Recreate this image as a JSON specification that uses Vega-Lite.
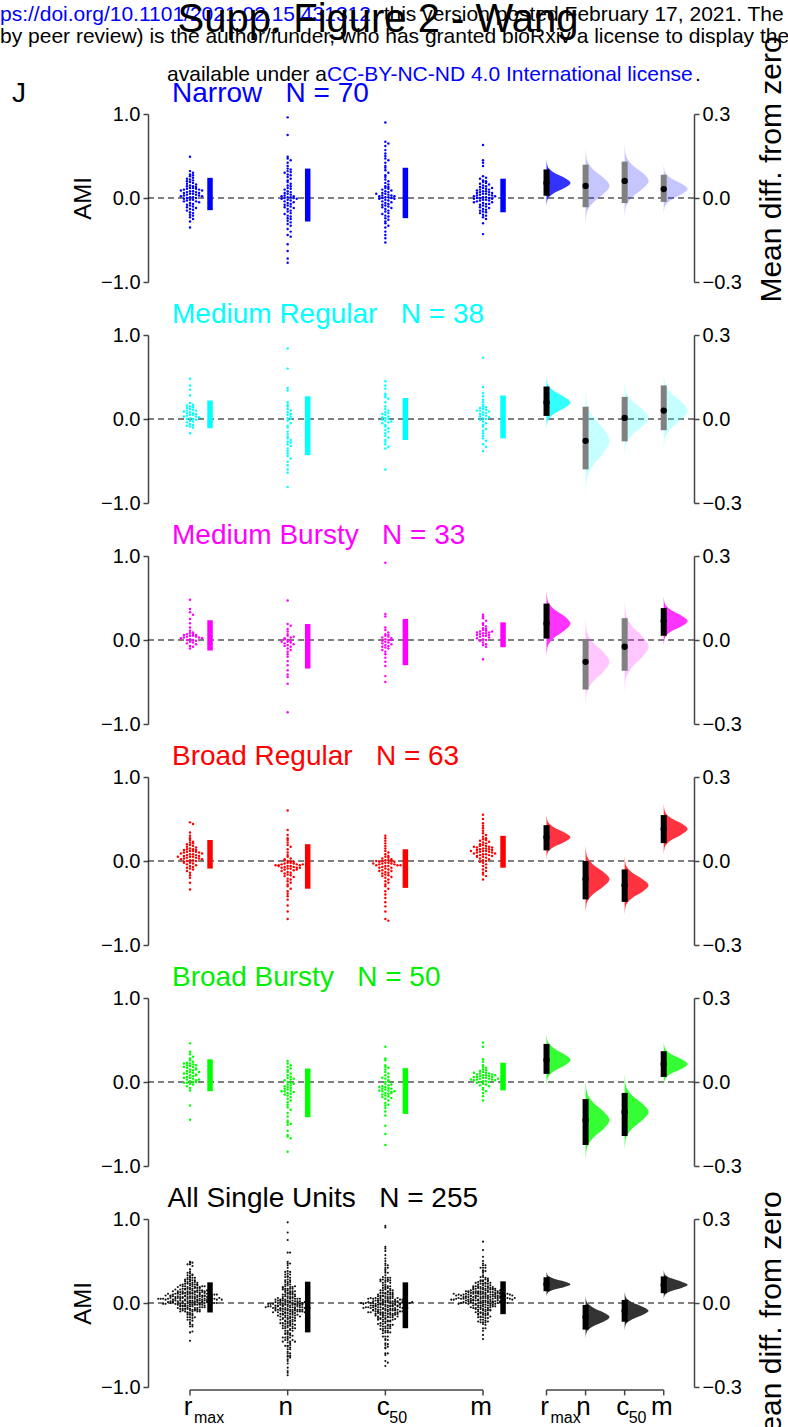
{
"$schema":"https://vega.github.io/schema/vega-lite/v6.json",
"padding":{"left":0,"top":0,"right":0,"bottom":0},
"background":"white",
"config":{"font":"Liberation Sans","view":{"stroke":null},"axis":{"labelFont":"Liberation Sans","titleFont":"Liberation Sans","labelColor":"#000","titleColor":"#000","titleFontWeight":"normal","domainColor":"#444","tickColor":"#444","domainWidth":1.5,"tickWidth":1.5,"grid":false},"text":{"font":"Liberation Sans"}},
"datasets":{
"dots":[
{"p":"Narrow","g":"rmax","v":[0.49,0.32,0.30,0.28,0.27,0.26,0.24,0.23,0.22,0.21,0.20,0.19,0.18,0.17,0.16,0.15,0.14,0.14,0.13,0.12,0.12,0.11,0.11,0.10,0.10,0.09,0.09,0.08,0.08,0.07,0.07,0.06,0.06,0.05,0.05,0.04,0.04,0.03,0.03,0.02,0.02,0.01,0.01,0.00,0.00,-0.01,-0.02,-0.02,-0.03,-0.04,-0.04,-0.05,-0.06,-0.07,-0.08,-0.09,-0.10,-0.11,-0.12,-0.13,-0.14,-0.15,-0.17,-0.18,-0.20,-0.21,-0.23,-0.25,-0.28,-0.35]},
{"p":"Narrow","g":"n","v":[0.96,0.75,0.49,0.47,0.45,0.42,0.35,0.34,0.32,0.31,0.30,0.28,0.27,0.25,0.23,0.21,0.19,0.17,0.15,0.14,0.12,0.11,0.10,0.08,0.07,0.06,0.05,0.04,0.03,0.02,0.02,0.01,0.01,0.00,0.00,-0.01,-0.01,-0.02,-0.03,-0.04,-0.05,-0.06,-0.07,-0.08,-0.09,-0.10,-0.11,-0.12,-0.13,-0.15,-0.16,-0.18,-0.19,-0.21,-0.22,-0.24,-0.25,-0.27,-0.29,-0.31,-0.33,-0.37,-0.40,-0.44,-0.46,-0.55,-0.63,-0.72,-0.77,0.38]},
{"p":"Narrow","g":"c50","v":[0.90,0.67,0.65,0.62,0.57,0.53,0.50,0.47,0.45,0.42,0.38,0.36,0.33,0.30,0.27,0.25,0.22,0.20,0.18,0.16,0.14,0.12,0.11,0.10,0.09,0.08,0.07,0.06,0.05,0.04,0.03,0.03,0.02,0.02,0.01,0.01,0.00,0.00,-0.01,-0.01,-0.02,-0.03,-0.04,-0.05,-0.06,-0.07,-0.08,-0.09,-0.10,-0.11,-0.12,-0.13,-0.15,-0.16,-0.18,-0.19,-0.21,-0.22,-0.24,-0.26,-0.28,-0.30,-0.33,-0.35,-0.40,-0.44,-0.48,-0.53,0.13,0.05]},
{"p":"Narrow","g":"m","v":[0.63,0.45,0.42,0.38,0.26,0.24,0.23,0.21,0.20,0.19,0.18,0.17,0.16,0.15,0.14,0.13,0.12,0.11,0.10,0.10,0.09,0.08,0.08,0.07,0.07,0.06,0.06,0.05,0.05,0.04,0.04,0.03,0.03,0.02,0.02,0.01,0.01,0.00,0.00,0.00,-0.01,-0.01,-0.02,-0.02,-0.03,-0.03,-0.04,-0.05,-0.05,-0.06,-0.07,-0.08,-0.09,-0.10,-0.11,-0.12,-0.13,-0.14,-0.15,-0.16,-0.17,-0.18,-0.20,-0.21,-0.23,-0.25,-0.30,-0.43,0.12,-0.07]},
{"p":"MedReg","g":"rmax","v":[0.48,0.40,0.35,0.28,0.19,0.17,0.16,0.15,0.14,0.13,0.12,0.11,0.10,0.10,0.09,0.08,0.07,0.07,0.06,0.05,0.05,0.04,0.03,0.03,0.02,0.01,0.00,0.00,-0.01,-0.02,-0.03,-0.04,-0.06,-0.07,-0.08,-0.09,-0.10,-0.17]},
{"p":"MedReg","g":"n","v":[0.84,0.60,0.37,0.34,0.20,0.17,0.15,0.12,0.10,0.08,0.06,0.05,0.03,0.01,0.00,-0.02,-0.05,-0.08,-0.10,-0.18,-0.21,-0.23,-0.25,-0.27,-0.30,-0.32,-0.35,-0.38,-0.41,-0.44,-0.47,-0.51,-0.55,-0.60,-0.64,-0.81,-0.15,-0.28]},
{"p":"MedReg","g":"c50","v":[0.45,0.40,0.36,0.30,0.28,0.26,0.24,0.20,0.15,0.12,0.10,0.08,0.07,0.05,0.03,0.02,0.01,0.00,-0.01,-0.02,-0.04,-0.05,-0.07,-0.09,-0.11,-0.13,-0.15,-0.17,-0.20,-0.22,-0.25,-0.27,-0.30,-0.33,-0.35,-0.60,0.06,-0.03]},
{"p":"MedReg","g":"m","v":[0.73,0.38,0.31,0.27,0.23,0.20,0.17,0.15,0.14,0.13,0.12,0.11,0.10,0.09,0.08,0.07,0.06,0.05,0.04,0.03,0.02,0.01,0.00,-0.01,-0.03,-0.05,-0.07,-0.09,-0.12,-0.14,-0.17,-0.20,-0.23,-0.26,-0.30,-0.33,-0.38,0.10]},
{"p":"MedBursty","g":"rmax","v":[0.48,0.37,0.33,0.30,0.25,0.20,0.15,0.11,0.09,0.08,0.07,0.07,0.06,0.05,0.05,0.04,0.04,0.03,0.03,0.02,0.02,0.01,0.00,0.00,-0.01,-0.02,-0.03,-0.04,-0.05,-0.07,-0.08,-0.10,0.06]},
{"p":"MedBursty","g":"n","v":[0.47,0.19,0.17,0.13,0.10,0.07,0.05,0.03,0.02,0.00,-0.01,-0.02,-0.03,-0.04,-0.05,-0.06,-0.08,-0.10,-0.12,-0.14,-0.17,-0.20,-0.25,-0.30,-0.36,-0.41,-0.44,-0.52,-0.86,0.01,-0.02,-0.07,0.04]},
{"p":"MedBursty","g":"c50","v":[0.92,0.31,0.28,0.15,0.12,0.09,0.07,0.05,0.04,0.03,0.02,0.01,0.00,-0.01,-0.02,-0.03,-0.04,-0.05,-0.06,-0.07,-0.09,-0.10,-0.12,-0.14,-0.17,-0.21,-0.26,-0.31,-0.43,-0.50,0.00,-0.08,0.06]},
{"p":"MedBursty","g":"m","v":[0.30,0.28,0.26,0.23,0.20,0.18,0.16,0.14,0.13,0.12,0.11,0.10,0.09,0.08,0.08,0.07,0.06,0.05,0.05,0.04,0.03,0.02,0.01,0.00,-0.01,-0.03,-0.05,-0.06,-0.08,-0.23,0.09,0.06,0.10]},
{"p":"BroadReg","g":"rmax","v":[0.46,0.44,0.34,0.30,0.27,0.25,0.23,0.22,0.21,0.20,0.19,0.18,0.17,0.16,0.15,0.14,0.14,0.13,0.12,0.12,0.11,0.11,0.10,0.10,0.09,0.09,0.08,0.08,0.07,0.07,0.06,0.06,0.05,0.05,0.04,0.04,0.03,0.03,0.02,0.02,0.01,0.01,0.00,0.00,-0.01,-0.02,-0.03,-0.04,-0.05,-0.06,-0.07,-0.08,-0.09,-0.10,-0.12,-0.14,-0.17,-0.20,-0.26,-0.34,0.13,0.05,-0.02]},
{"p":"BroadReg","g":"n","v":[0.60,0.37,0.31,0.27,0.25,0.22,0.19,0.17,0.14,0.10,0.07,0.05,0.03,0.02,0.00,-0.01,-0.02,-0.02,-0.03,-0.03,-0.04,-0.04,-0.05,-0.05,-0.05,-0.06,-0.06,-0.07,-0.07,-0.08,-0.08,-0.09,-0.09,-0.10,-0.11,-0.12,-0.13,-0.14,-0.15,-0.16,-0.17,-0.18,-0.19,-0.21,-0.22,-0.24,-0.26,-0.28,-0.30,-0.33,-0.36,-0.39,-0.42,-0.46,-0.53,-0.60,-0.69,-0.04,-0.06,0.01,-0.10,-0.01,-0.08]},
{"p":"BroadReg","g":"c50","v":[0.30,0.27,0.24,0.21,0.18,0.15,0.12,0.10,0.08,0.06,0.05,0.04,0.03,0.02,0.01,0.01,0.00,0.00,-0.01,-0.01,-0.02,-0.02,-0.03,-0.03,-0.04,-0.04,-0.05,-0.05,-0.06,-0.06,-0.07,-0.08,-0.09,-0.10,-0.11,-0.12,-0.13,-0.14,-0.15,-0.16,-0.17,-0.18,-0.19,-0.20,-0.22,-0.24,-0.26,-0.28,-0.30,-0.33,-0.36,-0.40,-0.44,-0.49,-0.54,-0.60,-0.69,-0.71,-0.03,-0.08,-0.12,0.00,-0.05]},
{"p":"BroadReg","g":"m","v":[0.55,0.50,0.45,0.42,0.39,0.36,0.33,0.31,0.29,0.27,0.26,0.25,0.24,0.23,0.22,0.21,0.20,0.19,0.18,0.18,0.17,0.16,0.16,0.15,0.15,0.14,0.14,0.13,0.13,0.12,0.12,0.11,0.11,0.10,0.10,0.09,0.09,0.08,0.08,0.07,0.07,0.06,0.06,0.05,0.04,0.03,0.02,0.01,0.00,-0.01,-0.02,-0.04,-0.06,-0.08,-0.10,-0.12,-0.14,-0.16,-0.18,-0.22,0.12,0.05,0.17]},
{"p":"BroadBursty","g":"rmax","v":[0.46,0.36,0.33,0.30,0.28,0.26,0.24,0.23,0.22,0.21,0.20,0.19,0.18,0.17,0.16,0.15,0.14,0.13,0.12,0.11,0.10,0.09,0.08,0.07,0.06,0.05,0.04,0.03,0.02,0.01,0.00,-0.01,-0.02,-0.03,-0.05,-0.07,-0.10,-0.28,-0.45,0.20,0.15,0.10,0.05,0.00,0.18,0.12,0.08,0.03,0.22,-0.01]},
{"p":"BroadBursty","g":"n","v":[0.25,0.22,0.20,0.18,0.16,0.14,0.12,0.10,0.08,0.06,0.05,0.03,0.02,0.00,-0.01,-0.03,-0.04,-0.06,-0.07,-0.08,-0.09,-0.10,-0.11,-0.12,-0.13,-0.14,-0.15,-0.16,-0.18,-0.20,-0.22,-0.24,-0.27,-0.30,-0.33,-0.37,-0.41,-0.46,-0.48,-0.50,-0.51,-0.58,-0.63,-0.65,-0.67,-0.83,-0.05,-0.11,0.04,-0.02]},
{"p":"BroadBursty","g":"c50","v":[0.42,0.28,0.26,0.20,0.18,0.17,0.15,0.12,0.10,0.08,0.06,0.04,0.02,0.00,-0.02,-0.04,-0.05,-0.06,-0.07,-0.08,-0.09,-0.10,-0.11,-0.12,-0.13,-0.14,-0.15,-0.16,-0.17,-0.18,-0.20,-0.22,-0.25,-0.28,-0.31,-0.35,-0.40,-0.52,-0.62,-0.75,-0.10,-0.08,-0.13,-0.06,0.01,-0.03,-0.11,-0.19,-0.27,0.05]},
{"p":"BroadBursty","g":"m","v":[0.47,0.42,0.27,0.24,0.20,0.18,0.17,0.15,0.14,0.13,0.12,0.11,0.10,0.10,0.09,0.09,0.08,0.08,0.07,0.07,0.06,0.06,0.05,0.05,0.04,0.04,0.03,0.03,0.02,0.02,0.01,0.01,0.00,0.00,-0.01,-0.02,-0.03,-0.04,-0.05,-0.07,-0.09,-0.11,-0.13,-0.17,-0.22,0.06,0.03,0.08,0.11,0.04]}
],
"stats":[
{"p":"Narrow","g":"rmax","mean":0.054,"lo":0.008,"hi":0.102,"sdlo":-0.145,"sdhi":0.24,"sig":true,"vy":[-0.030,-0.006,0.018,0.036,0.054,0.072,0.090,0.114,0.138],"vw":[0,0.04,0.32,0.75,1,0.75,0.32,0.04,0]},
{"p":"Narrow","g":"n","mean":0.043,"lo":-0.033,"hi":0.119,"sdlo":-0.28,"sdhi":0.35,"sig":false,"vy":[-0.094,-0.055,-0.016,0.014,0.043,0.072,0.102,0.141,0.180],"vw":[0,0.04,0.32,0.75,1,0.75,0.32,0.04,0]},
{"p":"Narrow","g":"c50","mean":0.061,"lo":-0.018,"hi":0.13,"sdlo":-0.24,"sdhi":0.36,"sig":false,"vy":[-0.072,-0.034,0.004,0.033,0.061,0.090,0.118,0.156,0.194],"vw":[0,0.04,0.32,0.75,1,0.75,0.32,0.04,0]},
{"p":"Narrow","g":"m","mean":0.032,"lo":-0.014,"hi":0.083,"sdlo":-0.17,"sdhi":0.23,"sig":false,"vy":[-0.056,-0.031,-0.006,0.013,0.032,0.051,0.070,0.095,0.120],"vw":[0,0.04,0.32,0.75,1,0.75,0.32,0.04,0]},
{"p":"MedReg","g":"rmax","mean":0.059,"lo":0.011,"hi":0.116,"sdlo":-0.11,"sdhi":0.22,"sig":true,"vy":[-0.036,-0.009,0.019,0.039,0.059,0.079,0.100,0.127,0.154],"vw":[0,0.04,0.32,0.75,1,0.75,0.32,0.04,0]},
{"p":"MedReg","g":"n","mean":-0.078,"lo":-0.18,"hi":0.044,"sdlo":-0.43,"sdhi":0.27,"sig":false,"vy":[-0.278,-0.221,-0.164,-0.121,-0.078,-0.035,0.008,0.065,0.122],"vw":[0,0.04,0.32,0.75,1,0.75,0.32,0.04,0]},
{"p":"MedReg","g":"c50","mean":0.004,"lo":-0.08,"hi":0.079,"sdlo":-0.25,"sdhi":0.25,"sig":false,"vy":[-0.136,-0.096,-0.056,-0.026,0.004,0.034,0.064,0.104,0.144],"vw":[0,0.04,0.32,0.75,1,0.75,0.32,0.04,0]},
{"p":"MedReg","g":"m","mean":0.03,"lo":-0.04,"hi":0.12,"sdlo":-0.23,"sdhi":0.28,"sig":false,"vy":[-0.114,-0.073,-0.032,-0.001,0.030,0.061,0.092,0.133,0.174],"vw":[0,0.04,0.32,0.75,1,0.75,0.32,0.04,0]},
{"p":"MedBursty","g":"rmax","mean":0.059,"lo":0.005,"hi":0.13,"sdlo":-0.125,"sdhi":0.235,"sig":true,"vy":[-0.060,-0.026,0.008,0.034,0.059,0.085,0.110,0.144,0.178],"vw":[0,0.04,0.32,0.75,1,0.75,0.32,0.04,0]},
{"p":"MedBursty","g":"n","mean":-0.078,"lo":-0.177,"hi":0.004,"sdlo":-0.34,"sdhi":0.19,"sig":false,"vy":[-0.239,-0.193,-0.147,-0.113,-0.078,-0.044,-0.009,0.037,0.083],"vw":[0,0.04,0.32,0.75,1,0.75,0.32,0.04,0]},
{"p":"MedBursty","g":"c50","mean":-0.024,"lo":-0.11,"hi":0.078,"sdlo":-0.30,"sdhi":0.25,"sig":false,"vy":[-0.192,-0.144,-0.096,-0.060,-0.024,0.012,0.048,0.096,0.144],"vw":[0,0.04,0.32,0.75,1,0.75,0.32,0.04,0]},
{"p":"MedBursty","g":"m","mean":0.068,"lo":0.015,"hi":0.114,"sdlo":-0.086,"sdhi":0.21,"sig":true,"vy":[-0.020,0.006,0.031,0.049,0.068,0.087,0.106,0.131,0.156],"vw":[0,0.04,0.32,0.75,1,0.75,0.32,0.04,0]},
{"p":"BroadReg","g":"rmax","mean":0.085,"lo":0.038,"hi":0.128,"sdlo":-0.09,"sdhi":0.25,"sig":true,"vy":[0.005,0.028,0.051,0.068,0.085,0.102,0.120,0.143,0.166],"vw":[0,0.04,0.32,0.75,1,0.75,0.32,0.04,0]},
{"p":"BroadReg","g":"n","mean":-0.065,"lo":-0.137,"hi":0.0,"sdlo":-0.33,"sdhi":0.2,"sig":true,"vy":[-0.188,-0.153,-0.118,-0.091,-0.065,-0.039,-0.013,0.023,0.058],"vw":[0,0.04,0.32,0.75,1,0.75,0.32,0.04,0]},
{"p":"BroadReg","g":"c50","mean":-0.087,"lo":-0.146,"hi":-0.03,"sdlo":-0.32,"sdhi":0.14,"sig":true,"vy":[-0.192,-0.162,-0.132,-0.110,-0.087,-0.065,-0.042,-0.012,0.018],"vw":[0,0.04,0.32,0.75,1,0.75,0.32,0.04,0]},
{"p":"BroadReg","g":"m","mean":0.114,"lo":0.064,"hi":0.164,"sdlo":-0.08,"sdhi":0.30,"sig":true,"vy":[0.023,0.049,0.075,0.095,0.114,0.134,0.153,0.179,0.205],"vw":[0,0.04,0.32,0.75,1,0.75,0.32,0.04,0]},
{"p":"BroadBursty","g":"rmax","mean":0.079,"lo":0.029,"hi":0.136,"sdlo":-0.11,"sdhi":0.27,"sig":true,"vy":[-0.016,0.012,0.039,0.059,0.079,0.099,0.120,0.147,0.174],"vw":[0,0.04,0.32,0.75,1,0.75,0.32,0.04,0]},
{"p":"BroadBursty","g":"n","mean":-0.136,"lo":-0.225,"hi":-0.061,"sdlo":-0.42,"sdhi":0.16,"sig":true,"vy":[-0.283,-0.241,-0.199,-0.168,-0.136,-0.105,-0.073,-0.031,0.011],"vw":[0,0.04,0.32,0.75,1,0.75,0.32,0.04,0]},
{"p":"BroadBursty","g":"c50","mean":-0.107,"lo":-0.193,"hi":-0.039,"sdlo":-0.38,"sdhi":0.165,"sig":true,"vy":[-0.244,-0.205,-0.166,-0.136,-0.107,-0.078,-0.049,-0.010,0.030],"vw":[0,0.04,0.32,0.75,1,0.75,0.32,0.04,0]},
{"p":"BroadBursty","g":"m","mean":0.064,"lo":0.018,"hi":0.11,"sdlo":-0.10,"sdhi":0.23,"sig":true,"vy":[-0.017,0.007,0.030,0.047,0.064,0.081,0.099,0.122,0.145],"vw":[0,0.04,0.32,0.75,1,0.75,0.32,0.04,0]},
{"p":"All","g":"rmax","mean":0.067,"lo":0.042,"hi":0.092,"sdlo":-0.113,"sdhi":0.246,"sig":true,"vy":[0.022,0.035,0.048,0.057,0.067,0.077,0.087,0.100,0.113],"vw":[0,0.04,0.32,0.75,1,0.75,0.32,0.04,0]},
{"p":"All","g":"n","mean":-0.05,"lo":-0.095,"hi":-0.007,"sdlo":-0.35,"sdhi":0.254,"sig":true,"vy":[-0.127,-0.105,-0.083,-0.067,-0.050,-0.034,-0.017,0.005,0.027],"vw":[0,0.04,0.32,0.75,1,0.75,0.32,0.04,0]},
{"p":"All","g":"c50","mean":-0.028,"lo":-0.067,"hi":0.011,"sdlo":-0.30,"sdhi":0.246,"sig":true,"vy":[-0.098,-0.078,-0.058,-0.043,-0.028,-0.013,0.002,0.022,0.042],"vw":[0,0.04,0.32,0.75,1,0.75,0.32,0.04,0]},
{"p":"All","g":"m","mean":0.065,"lo":0.035,"hi":0.095,"sdlo":-0.133,"sdhi":0.258,"sig":true,"vy":[0.013,0.028,0.043,0.054,0.065,0.076,0.088,0.103,0.118],"vw":[0,0.04,0.32,0.75,1,0.75,0.32,0.04,0]}
],
"labs":[{"g":"rmax","t":"r","s":"max"},{"g":"n","t":"n","s":""},{"g":"c50","t":"c","s":"50"},{"g":"m","t":"m","s":""}]
},
"spacing":53,
"bounds":"flush",
"vconcat":[
{"width":546,"height":168,"resolve":{"scale":{"y":"independent"}},"layer":[
 {"layer":[
  {"data":{"values":[{}]},"mark":{"type":"rule","strokeDash":[6,4],"strokeWidth":1.2,"color":"#000"},"encoding":{"y":{"datum":0,"type":"quantitative","scale":{"domain":[-1,1],"nice":false},"axis":{"values":[-1,0,1],"format":".1f","labelFontSize":20,"tickSize":5,"labelPadding":3,"labelFlush":false,"labelOverlap":false,"title":"AMI","titleFontSize":24,"titlePadding":5}}}},
  {"data":{"name":"dots"},"transform":[{"filter":"datum.p=='Narrow'"},{"flatten":["v"]},{"calculate":"indexof(['rmax','n','c50','m'],datum.g)+1","as":"gi"},{"calculate":"round(datum.v/0.035)","as":"bin"},{"window":[{"op":"row_number","as":"rn"}],"groupby":["g","bin"]},{"calculate":"datum.gi+(datum.rn%2==0?1:-1)*floor(datum.rn/2)*0.031","as":"xs"}],"mark":{"type":"circle","size":6,"opacity":1,"color":"#0000ff"},"encoding":{"x":{"field":"xs","type":"quantitative","scale":{"domain":[0.57,6.16],"nice":false},"axis":null},"y":{"field":"v","type":"quantitative","scale":{"domain":[-1,1],"nice":false}}}},
  {"data":{"name":"stats"},"transform":[{"filter":"datum.p=='Narrow'"},{"calculate":"indexof(['rmax','n','c50','m'],datum.g)+1.205","as":"bx"}],"mark":{"type":"rule","strokeWidth":5.5,"color":"#0000ff"},"encoding":{"x":{"field":"bx","type":"quantitative","scale":{"domain":[0.57,6.16],"nice":false},"axis":null},"y":{"field":"sdlo","type":"quantitative","scale":{"domain":[-1,1],"nice":false}},"y2":{"field":"sdhi"}}},
  {"data":{"values":[{}]},"mark":{"type":"text","align":"left","baseline":"alphabetic","fontSize":28,"color":"#0000ff"},"encoding":{"x":{"datum":0.816,"type":"quantitative","scale":{"domain":[0.57,6.16],"nice":false},"axis":null},"y":{"datum":1.143,"type":"quantitative","scale":{"domain":[-1,1],"nice":false}},"text":{"value":"Narrow\u00a0\u00a0\u00a0N = 70"}}},
  {"data":{"values":[{}]},"mark":{"type":"text","align":"left","baseline":"alphabetic","fontSize":28,"color":"#000"},"encoding":{"x":{"datum":-0.822,"type":"quantitative","scale":{"domain":[0.57,6.16],"nice":false},"axis":null},"y":{"datum":1.143,"type":"quantitative","scale":{"domain":[-1,1],"nice":false}},"text":{"value":"J"}}},
  {"data":{"values":[{}]},"mark":{"type":"text","align":"left","baseline":"alphabetic","fontSize":21,"color":"#0000ff"},"encoding":{"x":{"datum":-0.945,"type":"quantitative","scale":{"domain":[0.57,6.16],"nice":false},"axis":null},"y":{"datum":2.107,"type":"quantitative","scale":{"domain":[-1,1],"nice":false}},"text":{"value":"ps://doi.org/10.1101/2021.02.15.431312"}}},
  {"data":{"values":[{}]},"mark":{"type":"text","align":"left","baseline":"alphabetic","fontSize":21,"color":"#000"},"encoding":{"x":{"datum":2.863,"type":"quantitative","scale":{"domain":[0.57,6.16],"nice":false},"axis":null},"y":{"datum":2.107,"type":"quantitative","scale":{"domain":[-1,1],"nice":false}},"text":{"value":"; this version posted February 17, 2021. The"}}},
  {"data":{"values":[{}]},"mark":{"type":"text","align":"left","baseline":"alphabetic","fontSize":21,"color":"#000"},"encoding":{"x":{"datum":-0.945,"type":"quantitative","scale":{"domain":[0.57,6.16],"nice":false},"axis":null},"y":{"datum":1.845,"type":"quantitative","scale":{"domain":[-1,1],"nice":false}},"text":{"value":"by peer review) is the author/funder, who has granted bioRxiv a license to display the"}}},
  {"data":{"values":[{}]},"mark":{"type":"text","align":"right","baseline":"alphabetic","fontSize":21,"color":"#000"},"encoding":{"x":{"datum":2.403,"type":"quantitative","scale":{"domain":[0.57,6.16],"nice":false},"axis":null},"y":{"datum":1.393,"type":"quantitative","scale":{"domain":[-1,1],"nice":false}},"text":{"value":"available under a"}}},
  {"data":{"values":[{}]},"mark":{"type":"text","align":"left","baseline":"alphabetic","fontSize":21,"color":"#0000ff"},"encoding":{"x":{"datum":2.403,"type":"quantitative","scale":{"domain":[0.57,6.16],"nice":false},"axis":null},"y":{"datum":1.393,"type":"quantitative","scale":{"domain":[-1,1],"nice":false}},"text":{"value":"CC-BY-NC-ND 4.0 International license"}}},
  {"data":{"values":[{}]},"mark":{"type":"text","align":"left","baseline":"alphabetic","fontSize":21,"color":"#000"},"encoding":{"x":{"datum":6.17,"type":"quantitative","scale":{"domain":[0.57,6.16],"nice":false},"axis":null},"y":{"datum":1.393,"type":"quantitative","scale":{"domain":[-1,1],"nice":false}},"text":{"value":"."}}},
  {"data":{"values":[{}]},"mark":{"type":"text","align":"center","baseline":"alphabetic","fontSize":40,"color":"#000"},"encoding":{"x":{"datum":2.925,"type":"quantitative","scale":{"domain":[0.57,6.16],"nice":false},"axis":null},"y":{"datum":1.976,"type":"quantitative","scale":{"domain":[-1,1],"nice":false}},"text":{"value":"Supp. Figure 2 - Wang"}}}
 ]},
 {"layer":[
  {"data":{"name":"stats"},"transform":[{"filter":"datum.p=='Narrow'"},{"calculate":"4.65+0.4*indexof(['rmax','n','c50','m'],datum.g)","as":"rx"},{"flatten":["vy","vw"]},{"calculate":"datum.rx+datum.vw*0.245","as":"vx"}],"mark":{"type":"area","orient":"horizontal","interpolate":"monotone","color":"#3333ff"},"encoding":{"y":{"field":"vy","type":"quantitative","scale":{"domain":[-0.3,0.3],"nice":false},"axis":{"orient":"right","values":[-0.3,0,0.3],"format":".1f","labelFontSize":20,"tickSize":5,"labelPadding":3,"labelFlush":false,"labelOverlap":false,"title":"Mean diff. from zero","titleFontSize":30,"titleAngle":270,"titleBaseline":"top","titlePadding":15,"titleY":55}},"x":{"field":"vx","type":"quantitative","scale":{"domain":[0.57,6.16],"nice":false},"axis":null},"x2":{"field":"rx"},"detail":{"field":"g"},"opacity":{"condition":{"test":"datum.sig","value":1},"value":0.28}}},
  {"data":{"name":"stats"},"transform":[{"filter":"datum.p=='Narrow'"},{"calculate":"4.65+0.4*indexof(['rmax','n','c50','m'],datum.g)","as":"rx"}],"mark":{"type":"rule","strokeWidth":6},"encoding":{"x":{"field":"rx","type":"quantitative","scale":{"domain":[0.57,6.16],"nice":false},"axis":null},"y":{"field":"lo","type":"quantitative","scale":{"domain":[-0.3,0.3],"nice":false}},"y2":{"field":"hi"},"color":{"condition":{"test":"datum.sig","value":"#000000"},"value":"#808080"}}},
  {"data":{"name":"stats"},"transform":[{"filter":"datum.p=='Narrow'"},{"calculate":"4.65+0.4*indexof(['rmax','n','c50','m'],datum.g)","as":"rx"}],"mark":{"type":"circle","size":40,"opacity":1,"color":"#000"},"encoding":{"x":{"field":"rx","type":"quantitative","scale":{"domain":[0.57,6.16],"nice":false},"axis":null},"y":{"field":"mean","type":"quantitative","scale":{"domain":[-0.3,0.3],"nice":false}}}}
 ]}
]},
{"width":546,"height":168,"resolve":{"scale":{"y":"independent"}},"layer":[
 {"layer":[
  {"data":{"values":[{}]},"mark":{"type":"rule","strokeDash":[6,4],"strokeWidth":1.2,"color":"#000"},"encoding":{"y":{"datum":0,"type":"quantitative","scale":{"domain":[-1,1],"nice":false},"axis":{"values":[-1,0,1],"format":".1f","labelFontSize":20,"tickSize":5,"labelPadding":3,"labelFlush":false,"labelOverlap":false,"title":null}}}},
  {"data":{"name":"dots"},"transform":[{"filter":"datum.p=='MedReg'"},{"flatten":["v"]},{"calculate":"indexof(['rmax','n','c50','m'],datum.g)+1","as":"gi"},{"calculate":"round(datum.v/0.035)","as":"bin"},{"window":[{"op":"row_number","as":"rn"}],"groupby":["g","bin"]},{"calculate":"datum.gi+(datum.rn%2==0?1:-1)*floor(datum.rn/2)*0.031","as":"xs"}],"mark":{"type":"circle","size":6,"opacity":1,"color":"#00ffff"},"encoding":{"x":{"field":"xs","type":"quantitative","scale":{"domain":[0.57,6.16],"nice":false},"axis":null},"y":{"field":"v","type":"quantitative","scale":{"domain":[-1,1],"nice":false}}}},
  {"data":{"name":"stats"},"transform":[{"filter":"datum.p=='MedReg'"},{"calculate":"indexof(['rmax','n','c50','m'],datum.g)+1.205","as":"bx"}],"mark":{"type":"rule","strokeWidth":5.5,"color":"#00ffff"},"encoding":{"x":{"field":"bx","type":"quantitative","scale":{"domain":[0.57,6.16],"nice":false},"axis":null},"y":{"field":"sdlo","type":"quantitative","scale":{"domain":[-1,1],"nice":false}},"y2":{"field":"sdhi"}}},
  {"data":{"values":[{}]},"mark":{"type":"text","align":"left","baseline":"alphabetic","fontSize":28,"color":"#00ffff"},"encoding":{"x":{"datum":0.816,"type":"quantitative","scale":{"domain":[0.57,6.16],"nice":false},"axis":null},"y":{"datum":1.143,"type":"quantitative","scale":{"domain":[-1,1],"nice":false}},"text":{"value":"Medium Regular\u00a0\u00a0\u00a0N = 38"}}}
 ]},
 {"layer":[
  {"data":{"name":"stats"},"transform":[{"filter":"datum.p=='MedReg'"},{"calculate":"4.65+0.4*indexof(['rmax','n','c50','m'],datum.g)","as":"rx"},{"flatten":["vy","vw"]},{"calculate":"datum.rx+datum.vw*0.245","as":"vx"}],"mark":{"type":"area","orient":"horizontal","interpolate":"monotone","color":"#33ffff"},"encoding":{"y":{"field":"vy","type":"quantitative","scale":{"domain":[-0.3,0.3],"nice":false},"axis":{"orient":"right","values":[-0.3,0,0.3],"format":".1f","labelFontSize":20,"tickSize":5,"labelPadding":3,"labelFlush":false,"labelOverlap":false,"title":null}},"x":{"field":"vx","type":"quantitative","scale":{"domain":[0.57,6.16],"nice":false},"axis":null},"x2":{"field":"rx"},"detail":{"field":"g"},"opacity":{"condition":{"test":"datum.sig","value":1},"value":0.28}}},
  {"data":{"name":"stats"},"transform":[{"filter":"datum.p=='MedReg'"},{"calculate":"4.65+0.4*indexof(['rmax','n','c50','m'],datum.g)","as":"rx"}],"mark":{"type":"rule","strokeWidth":6},"encoding":{"x":{"field":"rx","type":"quantitative","scale":{"domain":[0.57,6.16],"nice":false},"axis":null},"y":{"field":"lo","type":"quantitative","scale":{"domain":[-0.3,0.3],"nice":false}},"y2":{"field":"hi"},"color":{"condition":{"test":"datum.sig","value":"#000000"},"value":"#808080"}}},
  {"data":{"name":"stats"},"transform":[{"filter":"datum.p=='MedReg'"},{"calculate":"4.65+0.4*indexof(['rmax','n','c50','m'],datum.g)","as":"rx"}],"mark":{"type":"circle","size":40,"opacity":1,"color":"#000"},"encoding":{"x":{"field":"rx","type":"quantitative","scale":{"domain":[0.57,6.16],"nice":false},"axis":null},"y":{"field":"mean","type":"quantitative","scale":{"domain":[-0.3,0.3],"nice":false}}}}
 ]}
]},
{"width":546,"height":168,"resolve":{"scale":{"y":"independent"}},"layer":[
 {"layer":[
  {"data":{"values":[{}]},"mark":{"type":"rule","strokeDash":[6,4],"strokeWidth":1.2,"color":"#000"},"encoding":{"y":{"datum":0,"type":"quantitative","scale":{"domain":[-1,1],"nice":false},"axis":{"values":[-1,0,1],"format":".1f","labelFontSize":20,"tickSize":5,"labelPadding":3,"labelFlush":false,"labelOverlap":false,"title":null}}}},
  {"data":{"name":"dots"},"transform":[{"filter":"datum.p=='MedBursty'"},{"flatten":["v"]},{"calculate":"indexof(['rmax','n','c50','m'],datum.g)+1","as":"gi"},{"calculate":"round(datum.v/0.035)","as":"bin"},{"window":[{"op":"row_number","as":"rn"}],"groupby":["g","bin"]},{"calculate":"datum.gi+(datum.rn%2==0?1:-1)*floor(datum.rn/2)*0.031","as":"xs"}],"mark":{"type":"circle","size":6,"opacity":1,"color":"#ff00ff"},"encoding":{"x":{"field":"xs","type":"quantitative","scale":{"domain":[0.57,6.16],"nice":false},"axis":null},"y":{"field":"v","type":"quantitative","scale":{"domain":[-1,1],"nice":false}}}},
  {"data":{"name":"stats"},"transform":[{"filter":"datum.p=='MedBursty'"},{"calculate":"indexof(['rmax','n','c50','m'],datum.g)+1.205","as":"bx"}],"mark":{"type":"rule","strokeWidth":5.5,"color":"#ff00ff"},"encoding":{"x":{"field":"bx","type":"quantitative","scale":{"domain":[0.57,6.16],"nice":false},"axis":null},"y":{"field":"sdlo","type":"quantitative","scale":{"domain":[-1,1],"nice":false}},"y2":{"field":"sdhi"}}},
  {"data":{"values":[{}]},"mark":{"type":"text","align":"left","baseline":"alphabetic","fontSize":28,"color":"#ff00ff"},"encoding":{"x":{"datum":0.816,"type":"quantitative","scale":{"domain":[0.57,6.16],"nice":false},"axis":null},"y":{"datum":1.143,"type":"quantitative","scale":{"domain":[-1,1],"nice":false}},"text":{"value":"Medium Bursty\u00a0\u00a0\u00a0N = 33"}}}
 ]},
 {"layer":[
  {"data":{"name":"stats"},"transform":[{"filter":"datum.p=='MedBursty'"},{"calculate":"4.65+0.4*indexof(['rmax','n','c50','m'],datum.g)","as":"rx"},{"flatten":["vy","vw"]},{"calculate":"datum.rx+datum.vw*0.245","as":"vx"}],"mark":{"type":"area","orient":"horizontal","interpolate":"monotone","color":"#ff33ff"},"encoding":{"y":{"field":"vy","type":"quantitative","scale":{"domain":[-0.3,0.3],"nice":false},"axis":{"orient":"right","values":[-0.3,0,0.3],"format":".1f","labelFontSize":20,"tickSize":5,"labelPadding":3,"labelFlush":false,"labelOverlap":false,"title":null}},"x":{"field":"vx","type":"quantitative","scale":{"domain":[0.57,6.16],"nice":false},"axis":null},"x2":{"field":"rx"},"detail":{"field":"g"},"opacity":{"condition":{"test":"datum.sig","value":1},"value":0.28}}},
  {"data":{"name":"stats"},"transform":[{"filter":"datum.p=='MedBursty'"},{"calculate":"4.65+0.4*indexof(['rmax','n','c50','m'],datum.g)","as":"rx"}],"mark":{"type":"rule","strokeWidth":6},"encoding":{"x":{"field":"rx","type":"quantitative","scale":{"domain":[0.57,6.16],"nice":false},"axis":null},"y":{"field":"lo","type":"quantitative","scale":{"domain":[-0.3,0.3],"nice":false}},"y2":{"field":"hi"},"color":{"condition":{"test":"datum.sig","value":"#000000"},"value":"#808080"}}},
  {"data":{"name":"stats"},"transform":[{"filter":"datum.p=='MedBursty'"},{"calculate":"4.65+0.4*indexof(['rmax','n','c50','m'],datum.g)","as":"rx"}],"mark":{"type":"circle","size":40,"opacity":1,"color":"#000"},"encoding":{"x":{"field":"rx","type":"quantitative","scale":{"domain":[0.57,6.16],"nice":false},"axis":null},"y":{"field":"mean","type":"quantitative","scale":{"domain":[-0.3,0.3],"nice":false}}}}
 ]}
]},
{"width":546,"height":168,"resolve":{"scale":{"y":"independent"}},"layer":[
 {"layer":[
  {"data":{"values":[{}]},"mark":{"type":"rule","strokeDash":[6,4],"strokeWidth":1.2,"color":"#000"},"encoding":{"y":{"datum":0,"type":"quantitative","scale":{"domain":[-1,1],"nice":false},"axis":{"values":[-1,0,1],"format":".1f","labelFontSize":20,"tickSize":5,"labelPadding":3,"labelFlush":false,"labelOverlap":false,"title":null}}}},
  {"data":{"name":"dots"},"transform":[{"filter":"datum.p=='BroadReg'"},{"flatten":["v"]},{"calculate":"indexof(['rmax','n','c50','m'],datum.g)+1","as":"gi"},{"calculate":"round(datum.v/0.035)","as":"bin"},{"window":[{"op":"row_number","as":"rn"}],"groupby":["g","bin"]},{"calculate":"datum.gi+(datum.rn%2==0?1:-1)*floor(datum.rn/2)*0.031","as":"xs"}],"mark":{"type":"circle","size":6,"opacity":1,"color":"#ff0000"},"encoding":{"x":{"field":"xs","type":"quantitative","scale":{"domain":[0.57,6.16],"nice":false},"axis":null},"y":{"field":"v","type":"quantitative","scale":{"domain":[-1,1],"nice":false}}}},
  {"data":{"name":"stats"},"transform":[{"filter":"datum.p=='BroadReg'"},{"calculate":"indexof(['rmax','n','c50','m'],datum.g)+1.205","as":"bx"}],"mark":{"type":"rule","strokeWidth":5.5,"color":"#ff0000"},"encoding":{"x":{"field":"bx","type":"quantitative","scale":{"domain":[0.57,6.16],"nice":false},"axis":null},"y":{"field":"sdlo","type":"quantitative","scale":{"domain":[-1,1],"nice":false}},"y2":{"field":"sdhi"}}},
  {"data":{"values":[{}]},"mark":{"type":"text","align":"left","baseline":"alphabetic","fontSize":28,"color":"#ff0000"},"encoding":{"x":{"datum":0.816,"type":"quantitative","scale":{"domain":[0.57,6.16],"nice":false},"axis":null},"y":{"datum":1.143,"type":"quantitative","scale":{"domain":[-1,1],"nice":false}},"text":{"value":"Broad Regular\u00a0\u00a0\u00a0N = 63"}}}
 ]},
 {"layer":[
  {"data":{"name":"stats"},"transform":[{"filter":"datum.p=='BroadReg'"},{"calculate":"4.65+0.4*indexof(['rmax','n','c50','m'],datum.g)","as":"rx"},{"flatten":["vy","vw"]},{"calculate":"datum.rx+datum.vw*0.245","as":"vx"}],"mark":{"type":"area","orient":"horizontal","interpolate":"monotone","color":"#ff3340"},"encoding":{"y":{"field":"vy","type":"quantitative","scale":{"domain":[-0.3,0.3],"nice":false},"axis":{"orient":"right","values":[-0.3,0,0.3],"format":".1f","labelFontSize":20,"tickSize":5,"labelPadding":3,"labelFlush":false,"labelOverlap":false,"title":null}},"x":{"field":"vx","type":"quantitative","scale":{"domain":[0.57,6.16],"nice":false},"axis":null},"x2":{"field":"rx"},"detail":{"field":"g"},"opacity":{"condition":{"test":"datum.sig","value":1},"value":0.28}}},
  {"data":{"name":"stats"},"transform":[{"filter":"datum.p=='BroadReg'"},{"calculate":"4.65+0.4*indexof(['rmax','n','c50','m'],datum.g)","as":"rx"}],"mark":{"type":"rule","strokeWidth":6},"encoding":{"x":{"field":"rx","type":"quantitative","scale":{"domain":[0.57,6.16],"nice":false},"axis":null},"y":{"field":"lo","type":"quantitative","scale":{"domain":[-0.3,0.3],"nice":false}},"y2":{"field":"hi"},"color":{"condition":{"test":"datum.sig","value":"#000000"},"value":"#808080"}}},
  {"data":{"name":"stats"},"transform":[{"filter":"datum.p=='BroadReg'"},{"calculate":"4.65+0.4*indexof(['rmax','n','c50','m'],datum.g)","as":"rx"}],"mark":{"type":"circle","size":40,"opacity":1,"color":"#000"},"encoding":{"x":{"field":"rx","type":"quantitative","scale":{"domain":[0.57,6.16],"nice":false},"axis":null},"y":{"field":"mean","type":"quantitative","scale":{"domain":[-0.3,0.3],"nice":false}}}}
 ]}
]},
{"width":546,"height":168,"resolve":{"scale":{"y":"independent"}},"layer":[
 {"layer":[
  {"data":{"values":[{}]},"mark":{"type":"rule","strokeDash":[6,4],"strokeWidth":1.2,"color":"#000"},"encoding":{"y":{"datum":0,"type":"quantitative","scale":{"domain":[-1,1],"nice":false},"axis":{"values":[-1,0,1],"format":".1f","labelFontSize":20,"tickSize":5,"labelPadding":3,"labelFlush":false,"labelOverlap":false,"title":null}}}},
  {"data":{"name":"dots"},"transform":[{"filter":"datum.p=='BroadBursty'"},{"flatten":["v"]},{"calculate":"indexof(['rmax','n','c50','m'],datum.g)+1","as":"gi"},{"calculate":"round(datum.v/0.035)","as":"bin"},{"window":[{"op":"row_number","as":"rn"}],"groupby":["g","bin"]},{"calculate":"datum.gi+(datum.rn%2==0?1:-1)*floor(datum.rn/2)*0.031","as":"xs"}],"mark":{"type":"circle","size":6,"opacity":1,"color":"#00ff00"},"encoding":{"x":{"field":"xs","type":"quantitative","scale":{"domain":[0.57,6.16],"nice":false},"axis":null},"y":{"field":"v","type":"quantitative","scale":{"domain":[-1,1],"nice":false}}}},
  {"data":{"name":"stats"},"transform":[{"filter":"datum.p=='BroadBursty'"},{"calculate":"indexof(['rmax','n','c50','m'],datum.g)+1.205","as":"bx"}],"mark":{"type":"rule","strokeWidth":5.5,"color":"#00ff00"},"encoding":{"x":{"field":"bx","type":"quantitative","scale":{"domain":[0.57,6.16],"nice":false},"axis":null},"y":{"field":"sdlo","type":"quantitative","scale":{"domain":[-1,1],"nice":false}},"y2":{"field":"sdhi"}}},
  {"data":{"values":[{}]},"mark":{"type":"text","align":"left","baseline":"alphabetic","fontSize":28,"color":"#00ee00"},"encoding":{"x":{"datum":0.816,"type":"quantitative","scale":{"domain":[0.57,6.16],"nice":false},"axis":null},"y":{"datum":1.143,"type":"quantitative","scale":{"domain":[-1,1],"nice":false}},"text":{"value":"Broad Bursty\u00a0\u00a0\u00a0N = 50"}}}
 ]},
 {"layer":[
  {"data":{"name":"stats"},"transform":[{"filter":"datum.p=='BroadBursty'"},{"calculate":"4.65+0.4*indexof(['rmax','n','c50','m'],datum.g)","as":"rx"},{"flatten":["vy","vw"]},{"calculate":"datum.rx+datum.vw*0.245","as":"vx"}],"mark":{"type":"area","orient":"horizontal","interpolate":"monotone","color":"#33ff33"},"encoding":{"y":{"field":"vy","type":"quantitative","scale":{"domain":[-0.3,0.3],"nice":false},"axis":{"orient":"right","values":[-0.3,0,0.3],"format":".1f","labelFontSize":20,"tickSize":5,"labelPadding":3,"labelFlush":false,"labelOverlap":false,"title":null}},"x":{"field":"vx","type":"quantitative","scale":{"domain":[0.57,6.16],"nice":false},"axis":null},"x2":{"field":"rx"},"detail":{"field":"g"},"opacity":{"condition":{"test":"datum.sig","value":1},"value":0.28}}},
  {"data":{"name":"stats"},"transform":[{"filter":"datum.p=='BroadBursty'"},{"calculate":"4.65+0.4*indexof(['rmax','n','c50','m'],datum.g)","as":"rx"}],"mark":{"type":"rule","strokeWidth":6},"encoding":{"x":{"field":"rx","type":"quantitative","scale":{"domain":[0.57,6.16],"nice":false},"axis":null},"y":{"field":"lo","type":"quantitative","scale":{"domain":[-0.3,0.3],"nice":false}},"y2":{"field":"hi"},"color":{"condition":{"test":"datum.sig","value":"#000000"},"value":"#808080"}}},
  {"data":{"name":"stats"},"transform":[{"filter":"datum.p=='BroadBursty'"},{"calculate":"4.65+0.4*indexof(['rmax','n','c50','m'],datum.g)","as":"rx"}],"mark":{"type":"circle","size":40,"opacity":1,"color":"#000"},"encoding":{"x":{"field":"rx","type":"quantitative","scale":{"domain":[0.57,6.16],"nice":false},"axis":null},"y":{"field":"mean","type":"quantitative","scale":{"domain":[-0.3,0.3],"nice":false}}}}
 ]}
]},
{"width":546,"height":168,"resolve":{"scale":{"y":"independent"}},"layer":[
 {"layer":[
  {"data":{"values":[{}]},"mark":{"type":"rule","strokeDash":[6,4],"strokeWidth":1.2,"color":"#000"},"encoding":{"y":{"datum":0,"type":"quantitative","scale":{"domain":[-1,1],"nice":false},"axis":{"values":[-1,0,1],"format":".1f","labelFontSize":20,"tickSize":5,"labelPadding":3,"labelFlush":false,"labelOverlap":false,"title":"AMI","titleFontSize":24,"titlePadding":5}}}},
  {"data":{"name":"dots"},"transform":[{"flatten":["v"]},{"calculate":"indexof(['rmax','n','c50','m'],datum.g)+1","as":"gi"},{"calculate":"round(datum.v/0.025)","as":"bin"},{"window":[{"op":"row_number","as":"rn"}],"groupby":["g","bin"]},{"calculate":"datum.gi+(datum.rn%2==0?1:-1)*floor(datum.rn/2)*0.025","as":"xs"}],"mark":{"type":"circle","size":4.5,"opacity":1,"color":"#111"},"encoding":{"x":{"field":"xs","type":"quantitative","scale":{"domain":[0.57,6.16],"nice":false},"axis":null},"y":{"field":"v","type":"quantitative","scale":{"domain":[-1,1],"nice":false}}}},
  {"data":{"name":"stats"},"transform":[{"filter":"datum.p=='All'"},{"calculate":"indexof(['rmax','n','c50','m'],datum.g)+1.205","as":"bx"}],"mark":{"type":"rule","strokeWidth":5.5,"color":"#000"},"encoding":{"x":{"field":"bx","type":"quantitative","scale":{"domain":[0.57,6.16],"nice":false},"axis":null},"y":{"field":"sdlo","type":"quantitative","scale":{"domain":[-1,1],"nice":false}},"y2":{"field":"sdhi"}}},
  {"data":{"values":[{}]},"mark":{"type":"text","align":"left","baseline":"alphabetic","fontSize":28,"color":"#000"},"encoding":{"x":{"datum":0.77,"type":"quantitative","scale":{"domain":[0.57,6.16],"nice":false},"axis":null},"y":{"datum":1.143,"type":"quantitative","scale":{"domain":[-1,1],"nice":false}},"text":{"value":"All Single Units\u00a0\u00a0\u00a0N = 255"}}},
  {"data":{"values":[{}]},"mark":{"type":"rule","color":"#444","strokeWidth":1.5},"encoding":{"x":{"datum":1,"type":"quantitative","scale":{"domain":[0.57,6.16],"nice":false},"axis":null},"x2":{"datum":4},"y":{"datum":-1.036,"type":"quantitative","scale":{"domain":[-1,1],"nice":false}}}},
  {"data":{"values":[{}]},"mark":{"type":"rule","color":"#444","strokeWidth":1.5},"encoding":{"x":{"datum":4.65,"type":"quantitative","scale":{"domain":[0.57,6.16],"nice":false},"axis":null},"x2":{"datum":5.85},"y":{"datum":-1.036,"type":"quantitative","scale":{"domain":[-1,1],"nice":false}}}},
  {"data":{"name":"labs"},"transform":[{"calculate":"indexof(['rmax','n','c50','m'],datum.g)+1","as":"gi"}],"mark":{"type":"rule","color":"#444","strokeWidth":1.5},"encoding":{"x":{"field":"gi","type":"quantitative","scale":{"domain":[0.57,6.16],"nice":false},"axis":null},"y":{"datum":-1.036,"type":"quantitative","scale":{"domain":[-1,1],"nice":false}},"y2":{"datum":-1.1}}},
  {"data":{"name":"labs"},"transform":[{"calculate":"4.65+0.4*indexof(['rmax','n','c50','m'],datum.g)","as":"rx"}],"mark":{"type":"rule","color":"#444","strokeWidth":1.5},"encoding":{"x":{"field":"rx","type":"quantitative","scale":{"domain":[0.57,6.16],"nice":false},"axis":null},"y":{"datum":-1.036,"type":"quantitative","scale":{"domain":[-1,1],"nice":false}},"y2":{"datum":-1.1}}},
  {"data":{"name":"labs"},"transform":[{"calculate":"indexof(['rmax','n','c50','m'],datum.g)+1","as":"gi"}],"mark":{"type":"text","align":"center","baseline":"alphabetic","fontSize":26,"color":"#000","dx":-2},"encoding":{"x":{"field":"gi","type":"quantitative","scale":{"domain":[0.57,6.16],"nice":false},"axis":null},"y":{"datum":-1.333,"type":"quantitative","scale":{"domain":[-1,1],"nice":false}},"text":{"field":"t"}}},
  {"data":{"name":"labs"},"transform":[{"calculate":"4.65+0.4*indexof(['rmax','n','c50','m'],datum.g)","as":"rx"}],"mark":{"type":"text","align":"center","baseline":"alphabetic","fontSize":26,"color":"#000","dx":-2},"encoding":{"x":{"field":"rx","type":"quantitative","scale":{"domain":[0.57,6.16],"nice":false},"axis":null},"y":{"datum":-1.333,"type":"quantitative","scale":{"domain":[-1,1],"nice":false}},"text":{"field":"t"}}},
  {"data":{"name":"labs"},"transform":[{"calculate":"indexof(['rmax','n','c50','m'],datum.g)+1","as":"gi"}],"mark":{"type":"text","align":"left","baseline":"alphabetic","fontSize":16,"color":"#000","dx":4,"dy":8},"encoding":{"x":{"field":"gi","type":"quantitative","scale":{"domain":[0.57,6.16],"nice":false},"axis":null},"y":{"datum":-1.333,"type":"quantitative","scale":{"domain":[-1,1],"nice":false}},"text":{"field":"s"}}},
  {"data":{"name":"labs"},"transform":[{"calculate":"4.65+0.4*indexof(['rmax','n','c50','m'],datum.g)","as":"rx"}],"mark":{"type":"text","align":"left","baseline":"alphabetic","fontSize":16,"color":"#000","dx":4,"dy":8},"encoding":{"x":{"field":"rx","type":"quantitative","scale":{"domain":[0.57,6.16],"nice":false},"axis":null},"y":{"datum":-1.333,"type":"quantitative","scale":{"domain":[-1,1],"nice":false}},"text":{"field":"s"}}}
 ]},
 {"layer":[
  {"data":{"name":"stats"},"transform":[{"filter":"datum.p=='All'"},{"calculate":"4.65+0.4*indexof(['rmax','n','c50','m'],datum.g)","as":"rx"},{"flatten":["vy","vw"]},{"calculate":"datum.rx+datum.vw*0.245","as":"vx"}],"mark":{"type":"area","orient":"horizontal","interpolate":"monotone","color":"#333333"},"encoding":{"y":{"field":"vy","type":"quantitative","scale":{"domain":[-0.3,0.3],"nice":false},"axis":{"orient":"right","values":[-0.3,0,0.3],"format":".1f","labelFontSize":20,"tickSize":5,"labelPadding":3,"labelFlush":false,"labelOverlap":false,"title":"Mean diff. from zero","titleFontSize":30,"titleAngle":270,"titleBaseline":"top","titlePadding":15,"titleY":105}},"x":{"field":"vx","type":"quantitative","scale":{"domain":[0.57,6.16],"nice":false},"axis":null},"x2":{"field":"rx"},"detail":{"field":"g"},"opacity":{"condition":{"test":"datum.sig","value":1},"value":0.28}}},
  {"data":{"name":"stats"},"transform":[{"filter":"datum.p=='All'"},{"calculate":"4.65+0.4*indexof(['rmax','n','c50','m'],datum.g)","as":"rx"}],"mark":{"type":"rule","strokeWidth":6},"encoding":{"x":{"field":"rx","type":"quantitative","scale":{"domain":[0.57,6.16],"nice":false},"axis":null},"y":{"field":"lo","type":"quantitative","scale":{"domain":[-0.3,0.3],"nice":false}},"y2":{"field":"hi"},"color":{"condition":{"test":"datum.sig","value":"#000000"},"value":"#808080"}}},
  {"data":{"name":"stats"},"transform":[{"filter":"datum.p=='All'"},{"calculate":"4.65+0.4*indexof(['rmax','n','c50','m'],datum.g)","as":"rx"}],"mark":{"type":"circle","size":40,"opacity":1,"color":"#000"},"encoding":{"x":{"field":"rx","type":"quantitative","scale":{"domain":[0.57,6.16],"nice":false},"axis":null},"y":{"field":"mean","type":"quantitative","scale":{"domain":[-0.3,0.3],"nice":false}}}}
 ]}
]}
]
}
